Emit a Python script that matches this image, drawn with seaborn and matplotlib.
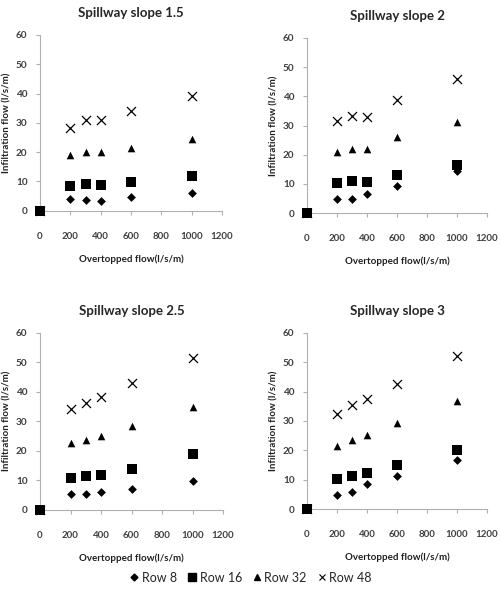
import matplotlib
matplotlib.use("Agg")
import matplotlib.pyplot as plt
import pandas as pd
import seaborn as sns
from matplotlib.lines import Line2D

# overtopped flow (l/s/m)
overtopped = [0, 200, 300, 400, 600, 1000]

slope_titles = ["Spillway slope 1.5", "Spillway slope 2",
                "Spillway slope 2.5", "Spillway slope 3"]
series_names = ["Row 8", "Row 16", "Row 32", "Row 48"]

# infiltration flow (l/s/m), one list per row for each slope
slope_15 = {
    "Row 8": [0, 4.1, 3.8, 3.4, 4.7, 6.2],
    "Row 16": [0, 8.5, 9.1, 8.9, 9.9, 11.7],
    "Row 32": [0, 19.1, 19.9, 19.9, 21.4, 24.4],
    "Row 48": [0, 28.4, 30.9, 31.0, 34.1, 39.0],
}
slope_2 = {
    "Row 8": [0, 4.9, 4.9, 6.6, 9.4, 14.3],
    "Row 16": [0, 10.3, 10.9, 10.5, 12.9, 16.6],
    "Row 32": [0, 21.0, 21.8, 21.8, 26.2, 31.1],
    "Row 48": [0, 31.4, 33.1, 32.9, 38.9, 45.9],
}
slope_25 = {
    "Row 8": [0, 5.4, 5.4, 5.9, 7.0, 9.6],
    "Row 16": [0, 10.9, 11.3, 11.7, 13.8, 18.9],
    "Row 32": [0, 22.6, 23.6, 24.9, 28.3, 34.8],
    "Row 48": [0, 34.0, 36.2, 38.2, 43.0, 51.3],
}
slope_3 = {
    "Row 8": [0, 4.8, 5.7, 8.4, 11.4, 16.7],
    "Row 16": [0, 10.2, 11.1, 12.3, 14.9, 20.0],
    "Row 32": [0, 21.6, 23.4, 25.1, 29.3, 36.7],
    "Row 48": [0, 32.2, 35.3, 37.3, 42.6, 52.2],
}

sns.set_style("white")
plt.rcParams["font.family"] = ["Lato", "DejaVu Sans"]

markers = {"Row 8": "D", "Row 16": "s", "Row 32": "^", "Row 48": "x"}
sizes = {"Row 8": 20, "Row 16": 55, "Row 32": 30, "Row 48": 42}

fig = plt.figure(figsize=(5, 5.92), dpi=100)
positions = [
    [0.080, 0.644, 0.364, 0.297],
    [0.614, 0.640, 0.360, 0.296],
    [0.080, 0.139, 0.366, 0.299],
    [0.614, 0.140, 0.360, 0.298],
]
all_data = [slope_15, slope_2, slope_25, slope_3]

grey = "#404040"
for pos, title, data in zip(positions, slope_titles, all_data):
    ax = fig.add_axes(pos)
    df = pd.DataFrame({"overtopped": overtopped * len(series_names)})
    df["series"] = [s for s in series_names for _ in overtopped]
    df["infiltration"] = [v for s in series_names for v in data[s]]
    for s in series_names:
        sub = df[df["series"] == s]
        kw = dict(linewidth=0.9) if s == "Row 48" else dict(linewidth=0)
        sns.scatterplot(data=sub, x="overtopped", y="infiltration",
                        marker=markers[s], s=sizes[s], color="black",
                        ax=ax, legend=False, zorder=3, clip_on=False, **kw)
    ax.set_xlim(0, 1200)
    ax.set_ylim(0, 60)
    ax.set_xticks(range(0, 1201, 200))
    ax.set_yticks(range(0, 61, 10))
    for side in ["top", "right"]:
        ax.spines[side].set_visible(False)
    for side in ["left", "bottom"]:
        ax.spines[side].set_color("#b0b0b0")
        ax.spines[side].set_linewidth(0.8)
    ax.tick_params(axis="x", direction="out", length=3, width=0.8,
                   color="#b0b0b0", pad=12, labelsize=7, labelcolor=grey)
    ax.tick_params(axis="y", direction="out", length=3, width=0.8,
                   color="#b0b0b0", pad=6, labelsize=7.2, labelcolor=grey)
    ax.tick_params(bottom=True, left=True)
    for lbl in ax.get_xticklabels() + ax.get_yticklabels():
        lbl.set_fontweight("bold")
    ax.set_title(title, fontsize=9.5, fontweight="bold", pad=13)
    ax.set_xlabel("Overtopped flow(l/s/m)", fontsize=7, fontweight="bold",
                  color="#202020", labelpad=10)
    ax.set_ylabel("Infiltration flow (l/s/m)", fontsize=7, fontweight="bold",
                  color="#202020", labelpad=3)

handles = []
for s in series_names:
    if s == "Row 48":
        h = Line2D([], [], marker="x", linestyle="none", color="black",
                   markersize=5, markeredgewidth=0.8)
    else:
        h = Line2D([], [], marker=markers[s], linestyle="none", color="black",
                   markersize={"Row 8": 3.5, "Row 16": 5.5, "Row 32": 4.5}[s])
    handles.append(h)
fig.legend(handles, series_names, loc="center", bbox_to_anchor=(0.5, 0.024),
           ncol=4, frameon=False, fontsize=9, handletextpad=0.1,
           columnspacing=0.7, handlelength=1.0)

fig.savefig("out.png", dpi=100)
